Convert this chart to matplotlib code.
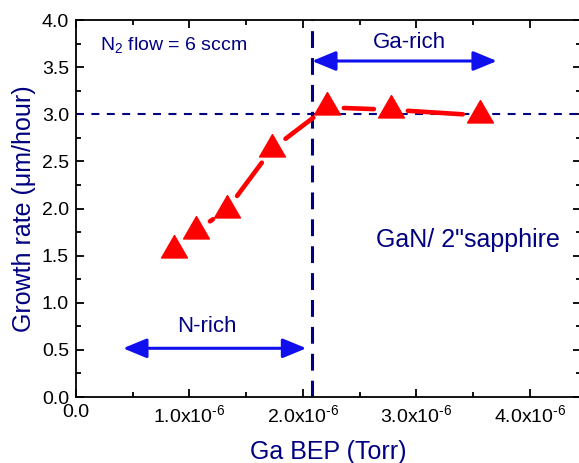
import numpy as np
import matplotlib
matplotlib.use("Agg")
import matplotlib.pyplot as plt
from matplotlib.ticker import MultipleLocator
from matplotlib.path import Path

plt.rcParams['font.family'] = ['Liberation Sans', 'DejaVu Sans']
plt.rcParams['mathtext.fontset'] = 'custom'
plt.rcParams['mathtext.rm'] = 'Liberation Sans'
plt.rcParams['mathtext.it'] = 'Liberation Sans'

# datos
ga_bep = [0.863e-6, 1.057e-6, 1.330e-6, 1.727e-6, 2.211e-6, 2.775e-6, 3.559e-6]
growth = [1.556, 1.761, 1.989, 2.631, 3.073, 3.048, 2.988]

xticks = [0, 1e-6, 2e-6, 3e-6, 4e-6]
xticklabels = ['0.0', r'1.0x10$^{\text{-6}}$', r'2.0x10$^{\text{-6}}$',
               r'3.0x10$^{\text{-6}}$', r'4.0x10$^{\text{-6}}$']
yticks = [0.0, 0.5, 1.0, 1.5, 2.0, 2.5, 3.0, 3.5, 4.0]

x_limite = 2.08e-6     # frontera N-rich / Ga-rich
y_sat = 3.0            # tasa de saturacion

navy = '#000080'
azul = '#1010ee'

fig = plt.figure(figsize=(5.79, 4.63), dpi=100)
ax = fig.add_axes([0.1313, 0.1425, 0.872, 0.8143])
ax.set_xlim(0, 4.45e-6)
ax.set_ylim(0, 4.0)

# triangulo centrado en su centroide (como Origin)
tri = Path([(0, 1), (-0.866, -0.5), (0.866, -0.5), (0, 1)],
           [Path.MOVETO, Path.LINETO, Path.LINETO, Path.CLOSEPOLY])

# segmentos de linea con hueco alrededor de los simbolos
gap = 17  # px
pts = ax.transData.transform(np.column_stack([ga_bep, growth]))
for i in range(len(pts) - 1):
    p0, p1 = pts[i], pts[i + 1]
    d = p1 - p0
    L = np.hypot(d[0], d[1])
    if L <= 2 * gap:
        continue
    u = d / L
    a = ax.transData.inverted().transform(p0 + u * gap)
    b = ax.transData.inverted().transform(p1 - u * gap)
    ax.plot([a[0], b[0]], [a[1], b[1]], color='red', lw=3.3,
            solid_capstyle='round', zorder=3)

ax.plot(ga_bep, growth, ls='none', marker=tri, markersize=21.5,
        markerfacecolor='red', markeredgecolor='red', zorder=4)

ax.axhline(y_sat, color=navy, lw=1.5, dashes=(3.8, 3.6), zorder=2)
ax.axvline(x_limite, color=navy, lw=2.2, dashes=(5.5, 3.3), zorder=2)

# flechas
ax.annotate('', xy=(3.71e-6, 3.565), xytext=(x_limite, 3.565),
            arrowprops=dict(arrowstyle='<|-|>,head_length=0.8,head_width=0.33', color=azul,
                            lw=2.2, mutation_scale=18, shrinkA=0, shrinkB=0))
ax.annotate('', xy=(2.03e-6, 0.517), xytext=(0.414e-6, 0.517),
            arrowprops=dict(arrowstyle='<|-|>,head_length=0.8,head_width=0.33', color=azul,
                            lw=2.2, mutation_scale=18, shrinkA=0, shrinkB=0))

ax.text(0.21e-6, 3.735, r'N$_2$ flow = 6 sccm', color=navy, fontsize=14, va='center')
ax.text(2.936e-6, 3.76, 'Ga-rich', color=navy, fontsize=16, ha='center', va='center')
ax.text(1.151e-6, 0.746, 'N-rich', color=navy, fontsize=16, ha='center', va='center')
ax.text(3.457e-6, 1.666, 'GaN/ 2"sapphire', color=navy, fontsize=18, ha='center', va='center')

ax.set_xticks(xticks)
ax.set_xticklabels(xticklabels)
ax.set_yticks(yticks)
ax.set_yticklabels(['%.1f' % v for v in yticks])
ax.xaxis.set_minor_locator(MultipleLocator(0.5e-6))
ax.yaxis.set_minor_locator(MultipleLocator(0.25))
ax.tick_params(which='both', direction='in', top=True, right=True, labelsize=14, width=1.3)
ax.tick_params(which='major', length=6, pad=5)
ax.tick_params(which='minor', length=3.5)
for s in ax.spines.values():
    s.set_linewidth(1.3)

ax.set_xlabel('Ga BEP (Torr)', color=navy, fontsize=18, labelpad=10)
ax.set_ylabel('Growth rate (\u03bcm/hour)', color=navy, fontsize=18, labelpad=4)

fig.savefig('out.png', dpi=100)
